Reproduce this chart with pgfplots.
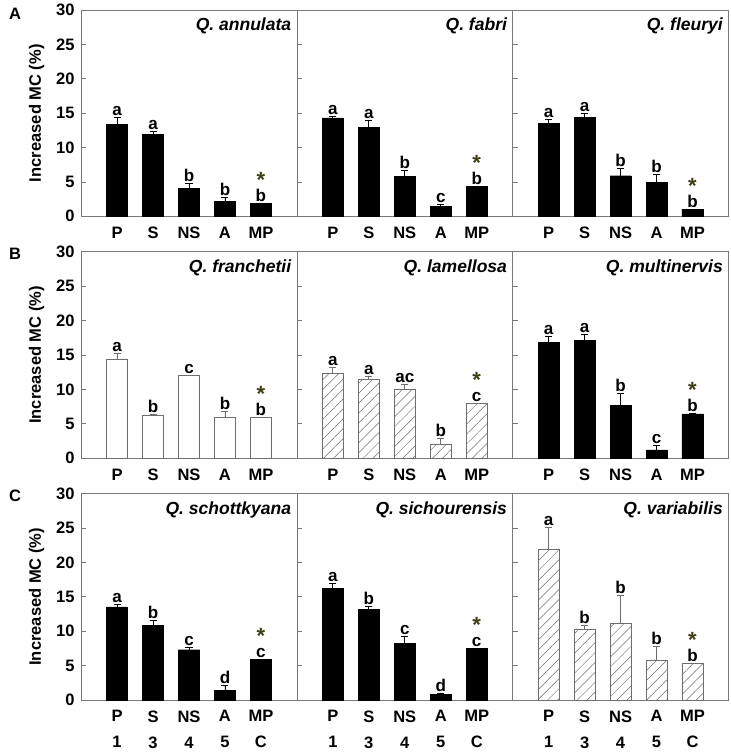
\documentclass[border=0pt]{standalone}
\usepackage{pgfplots}
\pgfplotsset{compat=1.18}
\usepackage{pgfplotstable}
\usepgfplotslibrary{groupplots}
\usetikzlibrary{calc,patterns.meta}
\usepackage{fontspec}
\setmainfont{Liberation Sans}
\definecolor{framegray}{RGB}{120,120,120}
\definecolor{starcol}{RGB}{64,64,20}
\definecolor{hatchgray}{RGB}{110,110,110}

\pgfplotstableread{
x y e l
0 13.35 1.10 a
1 11.90 0.40 a
2 4.10 0.65 b
3 2.20 0.50 b
4 1.85 0.00 b
}\tAone
\pgfplotstableread{
x y e l
0 14.30 0.25 a
1 12.90 1.00 a
2 5.80 0.85 b
3 1.45 0.35 c
4 4.40 0.00 b
}\tAtwo
\pgfplotstableread{
x y e l
0 13.50 0.60 a
1 14.35 0.60 a
2 5.90 1.10 b
3 4.95 1.10 b
4 1.00 0.00 b
}\tAthree
\pgfplotstableread{
x y e l
0 14.40 0.80 a
1 6.25 0.05 b
2 12.00 0.10 c
3 6.00 0.75 b
4 5.90 0.00 b
}\tBone
\pgfplotstableread{
x y e l
0 12.30 0.95 a
1 11.40 0.50 a
2 9.95 0.75 ac
3 1.95 0.90 b
4 7.95 0.00 c
}\tBtwo
\pgfplotstableread{
x y e l
0 16.80 0.90 a
1 17.10 0.85 a
2 7.65 1.80 b
3 1.20 0.60 c
4 6.45 0.00 b
}\tBthree
\pgfplotstableread{
x y e l
0 13.55 0.30 a
1 10.80 0.75 b
2 7.30 0.40 c
3 1.35 0.70 d
4 5.95 0.00 c
}\tCone
\pgfplotstableread{
x y e l
0 16.20 0.70 a
1 13.20 0.40 b
2 8.25 1.05 c
3 0.80 0.20 d
4 7.50 0.00 c
}\tCtwo
\pgfplotstableread{
x y e l
0 21.90 3.20 a
1 10.30 0.55 b
2 11.15 4.05 b
3 5.80 2.05 b
4 5.35 0.00 b
}\tCthree

\newcommand{\tickfont}{\bfseries\fontsize{16.5}{26}\selectfont}
\newcommand{\letfont}{\bfseries\fontsize{17}{17}\selectfont}
\newcommand{\labfont}{\bfseries\fontsize{16.5}{17}\selectfont}

% #1 table, #2 bar style, #3 error colour, #4 title, #5 MP value
\newcommand{\panel}[5]{%
  \addplot[ybar, bar width=21pt, #2,
    error bars/.cd, y dir=plus, y explicit,
    error bar style={#3, line width=0.8pt},
    error mark options={#3, rotate=90, mark size=3.5pt, line width=0.8pt}]
    table[x=x, y=y, y error=e] {#1};
  \addplot[draw=none, nodes near coords, point meta=explicit symbolic,
    nodes near coords style={anchor=south, inner sep=1.5pt, font=\letfont, text=black}]
    table[x=x, y expr=\thisrow{y}+\thisrow{e}, meta=l] {#1};
  \node[anchor=base, text=starcol, font=\bfseries\fontsize{22}{22}\selectfont, inner sep=0pt]
    at (axis cs:4,#5) [yshift=16pt] {*};
  \node[anchor=north east, font=\bfseries\itshape\fontsize{17.5}{18}\selectfont, inner sep=0pt]
    at (rel axis cs:1,1) [xshift=-5.5pt, yshift=-7.5pt] {#4};
}

\begin{document}
\begin{tikzpicture}
\begin{groupplot}[
  group style={group size=3 by 3, horizontal sep=0pt, vertical sep=35.5pt, group name=G},
  scale only axis, width=215.5pt, height=206pt,
  xmin=-1, xmax=5, ymin=0, ymax=30,
  ytick={0,5,10,15,20,25,30},
  xtick={0,1,2,3,4},
  xticklabels={P,S,NS,A,MP},
  axis line style={framegray, line width=0.7pt},
  tick align=inside, ytick pos=left, major tick length=5pt,
  ytick style={framegray, line width=0.7pt},
  xtick style={draw=none},
  /pgf/number format/assume math mode=true,
  tick label style={font=\tickfont},
  yticklabels={},
  xticklabel style={yshift=-7pt},
  ylabel style={font=\labfont},
  ylabel shift=5pt,
  clip=false,
]
\nextgroupplot[yticklabel style={xshift=-3pt}, yticklabels={0,5,10,15,20,25,30},
  ylabel={Increased MC (\%)}]
\panel{\tAone}{fill=black, draw=black}{black}{Q. annulata}{1.85}
\node[font=\labfont] at (rel axis cs:0,1) [xshift=-66pt, yshift=-4pt] {A};
\nextgroupplot
\panel{\tAtwo}{fill=black, draw=black}{black}{Q. fabri}{4.4}
\nextgroupplot
\panel{\tAthree}{fill=black, draw=black}{black}{Q. fleuryi}{1.0}

\nextgroupplot[yticklabel style={xshift=-3pt}, yticklabels={0,5,10,15,20,25,30},
  ylabel={Increased MC (\%)}]
\panel{\tBone}{fill=white, draw=hatchgray, line width=0.7pt}{hatchgray}{Q. franchetii}{5.9}
\node[font=\labfont] at (rel axis cs:0,1) [xshift=-66pt, yshift=-2pt] {B};
\nextgroupplot
\panel{\tBtwo}{draw=hatchgray, line width=0.6pt, pattern={Lines[angle=45,distance=7pt,line width=0.5pt]}, pattern color=hatchgray}{hatchgray}{Q. lamellosa}{7.95}
\nextgroupplot
\panel{\tBthree}{fill=black, draw=black}{black}{Q. multinervis}{6.45}

\nextgroupplot[yticklabel style={xshift=-3pt}, yticklabels={0,5,10,15,20,25,30},
  ylabel={Increased MC (\%)},
  xticklabels={{P\\1},{S\\3},{NS\\4},{A\\5},{MP\\C}}, xticklabel style={align=center}]
\panel{\tCone}{fill=black, draw=black}{black}{Q. schottkyana}{5.95}
\node[font=\labfont] at (rel axis cs:0,1) [xshift=-66pt, yshift=-2pt] {C};
\nextgroupplot[xticklabels={{P\\1},{S\\3},{NS\\4},{A\\5},{MP\\C}}, xticklabel style={align=center}]
\panel{\tCtwo}{fill=black, draw=black}{black}{Q. sichourensis}{7.5}
\nextgroupplot[xticklabels={{P\\1},{S\\3},{NS\\4},{A\\5},{MP\\C}}, xticklabel style={align=center}]
\panel{\tCthree}{draw=hatchgray, line width=0.6pt, pattern={Lines[angle=45,distance=7pt,line width=0.5pt]}, pattern color=hatchgray}{hatchgray}{Q. variabilis}{5.35}
\end{groupplot}
\pgfresetboundingbox
\path[use as bounding box] ($(G c1r1.north west)+(-81pt,10pt)$) rectangle ($(G c3r3.south east)+(2.5pt,-52pt)$);
\end{tikzpicture}
\end{document}
